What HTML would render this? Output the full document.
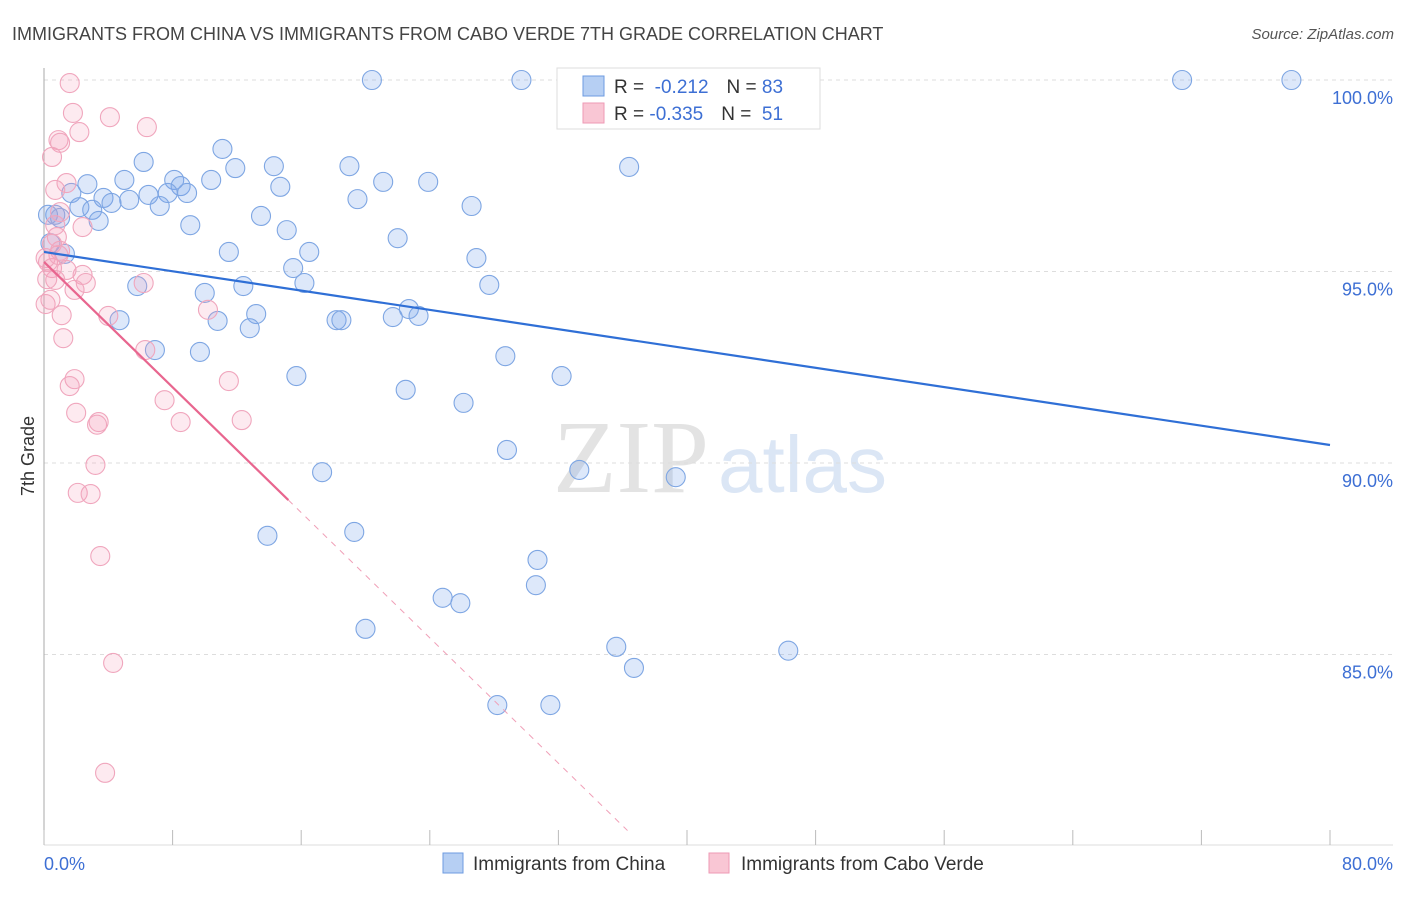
<!DOCTYPE html>
<html><head><meta charset="utf-8"><style>
body{margin:0;background:#fff;font-family:"Liberation Sans",sans-serif;}
</style></head><body>
<svg id="chart" width="1406" height="892" xmlns="http://www.w3.org/2000/svg" style="font-family:'Liberation Sans',sans-serif">
<text x="12" y="40" font-size="18" fill="#444">IMMIGRANTS FROM CHINA VS IMMIGRANTS FROM CABO VERDE 7TH GRADE CORRELATION CHART</text>
<text x="1394" y="39" font-size="15" fill="#555" font-style="italic" text-anchor="end">Source: ZipAtlas.com</text>
<g>
<text x="553" y="492" font-size="104" fill="#e3e3e3" font-family="Liberation Serif,serif">ZIP</text>
<text x="718" y="492" font-size="80" fill="#dbe6f5">atlas</text>
</g>
<g id="grid"></g>
<g id="axes"></g>
<g id="pts"></g>
<g id="trend"></g>
<text transform="translate(34,456) rotate(-90)" font-size="18" fill="#333" text-anchor="middle">7th Grade</text>
<g>
<rect x="557" y="68" width="263" height="61" fill="#fff" stroke="#ddd"/>
<rect x="583" y="76" width="21" height="20" fill="#b6cff3" stroke="#6d9be0"/>
<rect x="583" y="103" width="21" height="20" fill="#f9c6d4" stroke="#ee9ab5"/>
<text x="614" y="93" font-size="19" fill="#333">R = <tspan fill="#3d6fd4">&#160;-0.212</tspan><tspan dx="18">N = </tspan><tspan fill="#3d6fd4">83</tspan></text>
<text x="614" y="120" font-size="19" fill="#333">R = <tspan fill="#3d6fd4">-0.335</tspan><tspan dx="18">N = </tspan><tspan fill="#3d6fd4">&#160;51</tspan></text>
</g>
<g>
<rect x="443" y="853" width="20" height="20" fill="#b6cff3" stroke="#6d9be0"/>
<text x="473" y="870" font-size="19" fill="#333">Immigrants from China</text>
<rect x="709" y="853" width="20" height="20" fill="#f9c6d4" stroke="#ee9ab5"/>
<text x="741" y="870" font-size="19" fill="#333">Immigrants from Cabo Verde</text>
</g>
</svg>
<script>
const yTicks=[100,95,90,85];
const yTickLabels=["100.0%","95.0%","90.0%","85.0%"];
const xTicks=[0,8,16,24,32,40,48,56,64,72,80];
const xEndLabels=["0.0%","80.0%"];
const chinaX=[20.4,29.7,32.9,34.6,70.8,77.6,11.1,6.2,11.9,14.3,19.0,36.4,5.0,8.1,10.4,21.1,23.9,2.7,8.5,14.7,1.7,3.7,5.3,6.5,7.7,8.9,4.2,19.5,26.6,2.2,3.0,7.2,13.5,0.7,3.4,9.1,15.1,22.0,11.5,16.5,26.9,1.3,15.5,16.2,27.7,5.8,12.4,10.0,22.7,23.3,13.2,10.8,18.2,18.5,21.7,4.7,12.8,6.9,9.7,28.7,15.7,32.2,22.5,26.1,28.8,17.3,33.3,39.3,13.9,19.3,30.7,30.6,24.8,25.9,20.0,35.6,46.3,36.7,28.2,31.5,0.25,0.4,1.0];
const chinaY=[100,100,100,99.8,100,100,98.2,97.86,97.7,97.75,97.75,97.73,97.39,97.39,97.39,97.34,97.34,97.28,97.23,97.21,97.05,96.92,96.87,97.0,97.05,97.05,96.79,96.89,96.71,96.68,96.61,96.71,96.45,96.48,96.32,96.21,96.08,95.87,95.51,95.51,95.35,95.46,95.09,94.7,94.65,94.62,94.62,94.44,94.02,93.84,93.89,93.71,93.73,93.73,93.81,93.73,93.52,92.95,92.9,92.79,92.27,92.27,91.91,91.57,90.34,89.76,89.82,89.63,88.1,88.2,87.47,86.81,86.48,86.34,85.67,85.2,85.1,84.65,83.68,83.68,96.48,95.74,96.4];
const caboX=[1.6,1.8,4.1,2.2,6.4,0.9,1.0,0.5,1.4,0.7,2.4,0.8,1.0,0.25,0.5,1.4,2.4,2.6,0.7,0.2,1.9,6.2,0.1,1.1,4.0,10.2,1.2,6.3,1.9,1.6,11.5,7.5,2.0,3.4,3.3,8.5,12.3,3.2,2.1,2.9,3.5,4.3,3.8,0.5,0.7,0.1,1.0,0.9,0.4];
const caboY=[99.92,99.14,99.03,98.64,98.77,98.43,98.36,97.99,97.31,97.13,96.16,95.9,95.54,95.25,95.09,95.04,94.91,94.7,94.78,94.8,94.52,94.7,94.15,93.86,93.84,94.0,93.26,92.95,92.19,92.01,92.14,91.64,91.31,91.07,91.0,91.07,91.12,89.95,89.22,89.19,87.57,84.78,81.91,95.72,96.21,95.35,96.55,95.43,94.26];
const chinaTrend=[95.51,90.47];
const caboTrend=[95.25,0.409];
const caboSolidEnd=15.2, caboDashEnd=36.3;

const NS="http://www.w3.org/2000/svg";
const X=v=>44+v*16.075, Y=v=>80+(100-v)*38.3;
function mk(tag,attrs,parent){const e=document.createElementNS(NS,tag);for(const k in attrs)e.setAttribute(k,attrs[k]);document.getElementById(parent).appendChild(e);return e;}
yTicks.forEach((t,i)=>{
 const l=mk('line',{x1:44,x2:1393,y1:Y(t),y2:Y(t),stroke:'#ddd','stroke-dasharray':'4,4'},'grid');
 
 
 const tx=mk('text',{x:1393,y:Y(t)+24,'font-size':18,fill:'#3d6fd4','text-anchor':'end'},'grid');
 tx.textContent=yTickLabels[i];
 
 
});
const ax=mk('line',{x1:44,x2:44,y1:68,y2:845,stroke:'#aaa'},'axes');


const bx=mk('line',{x1:44,x2:1393,y1:845,y2:845,stroke:'#ddd'},'axes');


xTicks.forEach(t=>{
 const l=mk('line',{x1:X(t),x2:X(t),y1:830,y2:845,stroke:'#bbb'},'axes');
 
 
});
const x0=mk('text',{x:44,y:870,'font-size':18,fill:'#3d6fd4'},'axes');x0.textContent=xEndLabels[0];


const x1=mk('text',{x:1393,y:870,'font-size':18,fill:'#3d6fd4','text-anchor':'end'},'axes');x1.textContent=xEndLabels[1];


chinaX.forEach((v,i)=>{
 const c=mk('circle',{cx:X(v),cy:Y(chinaY[i]),r:9.5,fill:'rgba(120,165,235,0.25)',stroke:'#7ea6e3','stroke-width':1.1},'pts');
 
 
});
caboX.forEach((v,i)=>{
 const c=mk('circle',{cx:X(v),cy:Y(caboY[i]),r:9.5,fill:'rgba(245,160,188,0.22)',stroke:'#f0a6bd','stroke-width':1.1},'pts');
 
 
});
const t1=mk('line',{x1:X(0),y1:Y(chinaTrend[0]),x2:X(80),y2:Y(chinaTrend[1]),stroke:'#2f6fd6','stroke-width':2.2},'trend');


const cy=x=>caboTrend[0]-caboTrend[1]*x;
const t2=mk('line',{x1:X(0),y1:Y(cy(0)),x2:X(caboSolidEnd),y2:Y(cy(caboSolidEnd)),stroke:'#e8668f','stroke-width':2.2},'trend');


const t3=mk('line',{x1:X(caboSolidEnd),y1:Y(cy(caboSolidEnd)),x2:X(caboDashEnd),y2:Y(cy(caboDashEnd)),stroke:'#f0a0b8','stroke-width':1,'stroke-dasharray':'6,6'},'trend');


</script>
</body></html>
